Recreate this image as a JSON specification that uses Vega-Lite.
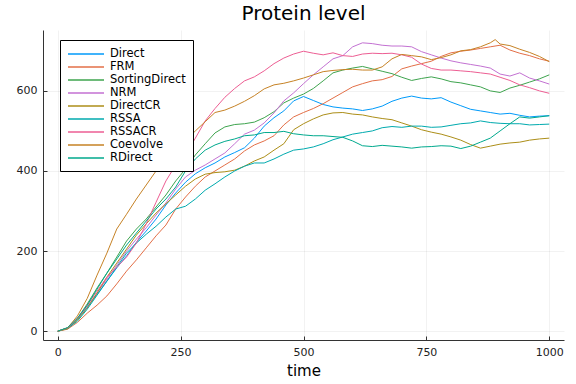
{
"$schema":"https://vega.github.io/schema/vega-lite/v6.json",
"width":521,"height":310,
"autosize":{"type":"none"},
"padding":{"left":43,"top":30,"right":12,"bottom":44},
"background":"white",
"config":{"font":"DejaVu Sans","view":{"stroke":null}},
"title":{"text":"Protein level","fontSize":20,"fontWeight":"normal","color":"#000","offset":6,"anchor":"middle"},
"data":{"values":[
{"s":"Direct","t":0,"v":0},{"s":"Direct","t":20,"v":8},{"s":"Direct","t":40,"v":30},{"s":"Direct","t":60,"v":60},{"s":"Direct","t":80,"v":92},{"s":"Direct","t":100,"v":125},{"s":"Direct","t":120,"v":158},{"s":"Direct","t":140,"v":188},{"s":"Direct","t":160,"v":222},{"s":"Direct","t":180,"v":250},{"s":"Direct","t":200,"v":280},{"s":"Direct","t":220,"v":315},{"s":"Direct","t":240,"v":345},{"s":"Direct","t":260,"v":372},{"s":"Direct","t":280,"v":393},{"s":"Direct","t":300,"v":408},{"s":"Direct","t":320,"v":420},{"s":"Direct","t":340,"v":435},{"s":"Direct","t":360,"v":446},{"s":"Direct","t":380,"v":458},{"s":"Direct","t":400,"v":482},{"s":"Direct","t":420,"v":512},{"s":"Direct","t":440,"v":533},{"s":"Direct","t":460,"v":550},{"s":"Direct","t":480,"v":575},{"s":"Direct","t":500,"v":586},{"s":"Direct","t":520,"v":576},{"s":"Direct","t":540,"v":566},{"s":"Direct","t":560,"v":560},{"s":"Direct","t":580,"v":557},{"s":"Direct","t":600,"v":555},{"s":"Direct","t":620,"v":551},{"s":"Direct","t":640,"v":555},{"s":"Direct","t":660,"v":562},{"s":"Direct","t":680,"v":574},{"s":"Direct","t":700,"v":582},{"s":"Direct","t":720,"v":587},{"s":"Direct","t":740,"v":582},{"s":"Direct","t":760,"v":580},{"s":"Direct","t":780,"v":583},{"s":"Direct","t":800,"v":572},{"s":"Direct","t":820,"v":563},{"s":"Direct","t":840,"v":554},{"s":"Direct","t":860,"v":550},{"s":"Direct","t":880,"v":546},{"s":"Direct","t":900,"v":542},{"s":"Direct","t":920,"v":544},{"s":"Direct","t":940,"v":539},{"s":"Direct","t":960,"v":535},{"s":"Direct","t":980,"v":537},{"s":"Direct","t":1000,"v":538},
{"s":"FRM","t":0,"v":0},{"s":"FRM","t":20,"v":5},{"s":"FRM","t":40,"v":22},{"s":"FRM","t":60,"v":45},{"s":"FRM","t":80,"v":65},{"s":"FRM","t":100,"v":88},{"s":"FRM","t":120,"v":118},{"s":"FRM","t":140,"v":150},{"s":"FRM","t":160,"v":178},{"s":"FRM","t":180,"v":208},{"s":"FRM","t":200,"v":238},{"s":"FRM","t":220,"v":265},{"s":"FRM","t":240,"v":305},{"s":"FRM","t":260,"v":335},{"s":"FRM","t":280,"v":362},{"s":"FRM","t":300,"v":385},{"s":"FRM","t":320,"v":400},{"s":"FRM","t":340,"v":415},{"s":"FRM","t":360,"v":430},{"s":"FRM","t":380,"v":450},{"s":"FRM","t":400,"v":465},{"s":"FRM","t":420,"v":475},{"s":"FRM","t":440,"v":488},{"s":"FRM","t":460,"v":515},{"s":"FRM","t":480,"v":535},{"s":"FRM","t":500,"v":546},{"s":"FRM","t":520,"v":556},{"s":"FRM","t":540,"v":568},{"s":"FRM","t":560,"v":582},{"s":"FRM","t":580,"v":596},{"s":"FRM","t":600,"v":610},{"s":"FRM","t":620,"v":618},{"s":"FRM","t":640,"v":625},{"s":"FRM","t":660,"v":628},{"s":"FRM","t":680,"v":636},{"s":"FRM","t":700,"v":655},{"s":"FRM","t":720,"v":662},{"s":"FRM","t":740,"v":668},{"s":"FRM","t":760,"v":674},{"s":"FRM","t":780,"v":686},{"s":"FRM","t":800,"v":695},{"s":"FRM","t":820,"v":699},{"s":"FRM","t":840,"v":702},{"s":"FRM","t":860,"v":706},{"s":"FRM","t":880,"v":710},{"s":"FRM","t":900,"v":714},{"s":"FRM","t":920,"v":702},{"s":"FRM","t":940,"v":694},{"s":"FRM","t":960,"v":688},{"s":"FRM","t":980,"v":680},{"s":"FRM","t":1000,"v":674},
{"s":"SortingDirect","t":0,"v":0},{"s":"SortingDirect","t":20,"v":8},{"s":"SortingDirect","t":40,"v":32},{"s":"SortingDirect","t":60,"v":68},{"s":"SortingDirect","t":80,"v":108},{"s":"SortingDirect","t":100,"v":145},{"s":"SortingDirect","t":120,"v":185},{"s":"SortingDirect","t":140,"v":225},{"s":"SortingDirect","t":160,"v":255},{"s":"SortingDirect","t":180,"v":280},{"s":"SortingDirect","t":200,"v":310},{"s":"SortingDirect","t":220,"v":340},{"s":"SortingDirect","t":240,"v":375},{"s":"SortingDirect","t":260,"v":405},{"s":"SortingDirect","t":280,"v":440},{"s":"SortingDirect","t":300,"v":468},{"s":"SortingDirect","t":320,"v":495},{"s":"SortingDirect","t":340,"v":510},{"s":"SortingDirect","t":360,"v":516},{"s":"SortingDirect","t":380,"v":518},{"s":"SortingDirect","t":400,"v":522},{"s":"SortingDirect","t":420,"v":533},{"s":"SortingDirect","t":440,"v":548},{"s":"SortingDirect","t":460,"v":570},{"s":"SortingDirect","t":480,"v":582},{"s":"SortingDirect","t":500,"v":592},{"s":"SortingDirect","t":520,"v":606},{"s":"SortingDirect","t":540,"v":625},{"s":"SortingDirect","t":560,"v":645},{"s":"SortingDirect","t":580,"v":652},{"s":"SortingDirect","t":600,"v":657},{"s":"SortingDirect","t":620,"v":661},{"s":"SortingDirect","t":640,"v":655},{"s":"SortingDirect","t":660,"v":649},{"s":"SortingDirect","t":680,"v":643},{"s":"SortingDirect","t":700,"v":634},{"s":"SortingDirect","t":720,"v":626},{"s":"SortingDirect","t":740,"v":631},{"s":"SortingDirect","t":760,"v":635},{"s":"SortingDirect","t":780,"v":630},{"s":"SortingDirect","t":800,"v":623},{"s":"SortingDirect","t":820,"v":620},{"s":"SortingDirect","t":840,"v":615},{"s":"SortingDirect","t":860,"v":610},{"s":"SortingDirect","t":880,"v":600},{"s":"SortingDirect","t":900,"v":596},{"s":"SortingDirect","t":920,"v":607},{"s":"SortingDirect","t":940,"v":614},{"s":"SortingDirect","t":960,"v":622},{"s":"SortingDirect","t":980,"v":630},{"s":"SortingDirect","t":1000,"v":640},
{"s":"NRM","t":0,"v":0},{"s":"NRM","t":20,"v":8},{"s":"NRM","t":40,"v":30},{"s":"NRM","t":60,"v":62},{"s":"NRM","t":80,"v":95},{"s":"NRM","t":100,"v":130},{"s":"NRM","t":120,"v":165},{"s":"NRM","t":140,"v":200},{"s":"NRM","t":160,"v":230},{"s":"NRM","t":180,"v":258},{"s":"NRM","t":200,"v":290},{"s":"NRM","t":220,"v":320},{"s":"NRM","t":240,"v":355},{"s":"NRM","t":260,"v":385},{"s":"NRM","t":280,"v":402},{"s":"NRM","t":300,"v":415},{"s":"NRM","t":320,"v":430},{"s":"NRM","t":340,"v":445},{"s":"NRM","t":360,"v":468},{"s":"NRM","t":380,"v":492},{"s":"NRM","t":400,"v":502},{"s":"NRM","t":420,"v":520},{"s":"NRM","t":440,"v":545},{"s":"NRM","t":460,"v":575},{"s":"NRM","t":480,"v":595},{"s":"NRM","t":500,"v":618},{"s":"NRM","t":520,"v":640},{"s":"NRM","t":540,"v":660},{"s":"NRM","t":560,"v":680},{"s":"NRM","t":580,"v":688},{"s":"NRM","t":600,"v":710},{"s":"NRM","t":620,"v":720},{"s":"NRM","t":640,"v":718},{"s":"NRM","t":660,"v":714},{"s":"NRM","t":680,"v":712},{"s":"NRM","t":700,"v":712},{"s":"NRM","t":720,"v":710},{"s":"NRM","t":740,"v":698},{"s":"NRM","t":760,"v":690},{"s":"NRM","t":780,"v":682},{"s":"NRM","t":800,"v":675},{"s":"NRM","t":820,"v":670},{"s":"NRM","t":840,"v":666},{"s":"NRM","t":860,"v":662},{"s":"NRM","t":880,"v":657},{"s":"NRM","t":900,"v":642},{"s":"NRM","t":920,"v":637},{"s":"NRM","t":940,"v":645},{"s":"NRM","t":960,"v":632},{"s":"NRM","t":980,"v":625},{"s":"NRM","t":1000,"v":617},
{"s":"DirectCR","t":0,"v":0},{"s":"DirectCR","t":20,"v":6},{"s":"DirectCR","t":40,"v":28},{"s":"DirectCR","t":60,"v":58},{"s":"DirectCR","t":80,"v":95},{"s":"DirectCR","t":100,"v":135},{"s":"DirectCR","t":120,"v":170},{"s":"DirectCR","t":140,"v":205},{"s":"DirectCR","t":160,"v":240},{"s":"DirectCR","t":180,"v":268},{"s":"DirectCR","t":200,"v":295},{"s":"DirectCR","t":220,"v":318},{"s":"DirectCR","t":240,"v":340},{"s":"DirectCR","t":260,"v":362},{"s":"DirectCR","t":280,"v":380},{"s":"DirectCR","t":300,"v":392},{"s":"DirectCR","t":320,"v":396},{"s":"DirectCR","t":340,"v":398},{"s":"DirectCR","t":360,"v":402},{"s":"DirectCR","t":380,"v":412},{"s":"DirectCR","t":400,"v":425},{"s":"DirectCR","t":420,"v":435},{"s":"DirectCR","t":440,"v":452},{"s":"DirectCR","t":460,"v":468},{"s":"DirectCR","t":480,"v":503},{"s":"DirectCR","t":500,"v":518},{"s":"DirectCR","t":520,"v":530},{"s":"DirectCR","t":540,"v":540},{"s":"DirectCR","t":560,"v":545},{"s":"DirectCR","t":580,"v":546},{"s":"DirectCR","t":600,"v":542},{"s":"DirectCR","t":620,"v":540},{"s":"DirectCR","t":640,"v":535},{"s":"DirectCR","t":660,"v":531},{"s":"DirectCR","t":680,"v":528},{"s":"DirectCR","t":700,"v":520},{"s":"DirectCR","t":720,"v":512},{"s":"DirectCR","t":740,"v":503},{"s":"DirectCR","t":760,"v":497},{"s":"DirectCR","t":780,"v":492},{"s":"DirectCR","t":800,"v":485},{"s":"DirectCR","t":820,"v":477},{"s":"DirectCR","t":840,"v":466},{"s":"DirectCR","t":860,"v":457},{"s":"DirectCR","t":880,"v":462},{"s":"DirectCR","t":900,"v":467},{"s":"DirectCR","t":920,"v":470},{"s":"DirectCR","t":940,"v":472},{"s":"DirectCR","t":960,"v":477},{"s":"DirectCR","t":980,"v":480},{"s":"DirectCR","t":1000,"v":482},
{"s":"RSSA","t":0,"v":0},{"s":"RSSA","t":20,"v":7},{"s":"RSSA","t":40,"v":25},{"s":"RSSA","t":60,"v":55},{"s":"RSSA","t":80,"v":90},{"s":"RSSA","t":100,"v":125},{"s":"RSSA","t":120,"v":160},{"s":"RSSA","t":140,"v":195},{"s":"RSSA","t":160,"v":220},{"s":"RSSA","t":180,"v":242},{"s":"RSSA","t":200,"v":262},{"s":"RSSA","t":220,"v":285},{"s":"RSSA","t":240,"v":305},{"s":"RSSA","t":260,"v":312},{"s":"RSSA","t":280,"v":330},{"s":"RSSA","t":300,"v":352},{"s":"RSSA","t":320,"v":368},{"s":"RSSA","t":340,"v":385},{"s":"RSSA","t":360,"v":400},{"s":"RSSA","t":380,"v":412},{"s":"RSSA","t":400,"v":420},{"s":"RSSA","t":420,"v":420},{"s":"RSSA","t":440,"v":430},{"s":"RSSA","t":460,"v":442},{"s":"RSSA","t":480,"v":452},{"s":"RSSA","t":500,"v":455},{"s":"RSSA","t":520,"v":460},{"s":"RSSA","t":540,"v":468},{"s":"RSSA","t":560,"v":478},{"s":"RSSA","t":580,"v":485},{"s":"RSSA","t":600,"v":492},{"s":"RSSA","t":620,"v":496},{"s":"RSSA","t":640,"v":500},{"s":"RSSA","t":660,"v":508},{"s":"RSSA","t":680,"v":511},{"s":"RSSA","t":700,"v":509},{"s":"RSSA","t":720,"v":512},{"s":"RSSA","t":740,"v":512},{"s":"RSSA","t":760,"v":509},{"s":"RSSA","t":780,"v":510},{"s":"RSSA","t":800,"v":514},{"s":"RSSA","t":820,"v":518},{"s":"RSSA","t":840,"v":520},{"s":"RSSA","t":860,"v":525},{"s":"RSSA","t":880,"v":521},{"s":"RSSA","t":900,"v":519},{"s":"RSSA","t":920,"v":518},{"s":"RSSA","t":940,"v":518},{"s":"RSSA","t":960,"v":515},{"s":"RSSA","t":980,"v":516},{"s":"RSSA","t":1000,"v":517},
{"s":"RSSACR","t":0,"v":0},{"s":"RSSACR","t":20,"v":8},{"s":"RSSACR","t":40,"v":32},{"s":"RSSACR","t":60,"v":65},{"s":"RSSACR","t":80,"v":100},{"s":"RSSACR","t":100,"v":135},{"s":"RSSACR","t":120,"v":160},{"s":"RSSACR","t":140,"v":185},{"s":"RSSACR","t":160,"v":220},{"s":"RSSACR","t":180,"v":268},{"s":"RSSACR","t":200,"v":322},{"s":"RSSACR","t":220,"v":375},{"s":"RSSACR","t":240,"v":415},{"s":"RSSACR","t":260,"v":440},{"s":"RSSACR","t":280,"v":482},{"s":"RSSACR","t":300,"v":525},{"s":"RSSACR","t":320,"v":556},{"s":"RSSACR","t":340,"v":584},{"s":"RSSACR","t":360,"v":606},{"s":"RSSACR","t":380,"v":625},{"s":"RSSACR","t":400,"v":635},{"s":"RSSACR","t":420,"v":650},{"s":"RSSACR","t":440,"v":668},{"s":"RSSACR","t":460,"v":682},{"s":"RSSACR","t":480,"v":692},{"s":"RSSACR","t":500,"v":699},{"s":"RSSACR","t":520,"v":694},{"s":"RSSACR","t":540,"v":690},{"s":"RSSACR","t":560,"v":695},{"s":"RSSACR","t":580,"v":688},{"s":"RSSACR","t":600,"v":686},{"s":"RSSACR","t":620,"v":692},{"s":"RSSACR","t":640,"v":694},{"s":"RSSACR","t":660,"v":693},{"s":"RSSACR","t":680,"v":694},{"s":"RSSACR","t":700,"v":690},{"s":"RSSACR","t":720,"v":684},{"s":"RSSACR","t":740,"v":667},{"s":"RSSACR","t":760,"v":656},{"s":"RSSACR","t":780,"v":652},{"s":"RSSACR","t":800,"v":652},{"s":"RSSACR","t":820,"v":650},{"s":"RSSACR","t":840,"v":648},{"s":"RSSACR","t":860,"v":645},{"s":"RSSACR","t":880,"v":642},{"s":"RSSACR","t":900,"v":634},{"s":"RSSACR","t":920,"v":626},{"s":"RSSACR","t":940,"v":615},{"s":"RSSACR","t":960,"v":608},{"s":"RSSACR","t":980,"v":600},{"s":"RSSACR","t":1000,"v":594},
{"s":"Coevolve","t":0,"v":0},{"s":"Coevolve","t":20,"v":8},{"s":"Coevolve","t":40,"v":38},{"s":"Coevolve","t":60,"v":82},{"s":"Coevolve","t":80,"v":140},{"s":"Coevolve","t":100,"v":195},{"s":"Coevolve","t":120,"v":255},{"s":"Coevolve","t":140,"v":292},{"s":"Coevolve","t":160,"v":330},{"s":"Coevolve","t":180,"v":365},{"s":"Coevolve","t":200,"v":400},{"s":"Coevolve","t":220,"v":435},{"s":"Coevolve","t":240,"v":458},{"s":"Coevolve","t":260,"v":476},{"s":"Coevolve","t":280,"v":500},{"s":"Coevolve","t":300,"v":523},{"s":"Coevolve","t":320,"v":546},{"s":"Coevolve","t":340,"v":552},{"s":"Coevolve","t":360,"v":562},{"s":"Coevolve","t":380,"v":574},{"s":"Coevolve","t":400,"v":588},{"s":"Coevolve","t":420,"v":605},{"s":"Coevolve","t":440,"v":615},{"s":"Coevolve","t":460,"v":619},{"s":"Coevolve","t":480,"v":625},{"s":"Coevolve","t":500,"v":632},{"s":"Coevolve","t":520,"v":640},{"s":"Coevolve","t":540,"v":648},{"s":"Coevolve","t":560,"v":651},{"s":"Coevolve","t":580,"v":653},{"s":"Coevolve","t":600,"v":654},{"s":"Coevolve","t":620,"v":652},{"s":"Coevolve","t":640,"v":652},{"s":"Coevolve","t":660,"v":660},{"s":"Coevolve","t":680,"v":680},{"s":"Coevolve","t":700,"v":691},{"s":"Coevolve","t":720,"v":688},{"s":"Coevolve","t":740,"v":685},{"s":"Coevolve","t":760,"v":678},{"s":"Coevolve","t":780,"v":683},{"s":"Coevolve","t":800,"v":690},{"s":"Coevolve","t":820,"v":700},{"s":"Coevolve","t":840,"v":703},{"s":"Coevolve","t":860,"v":710},{"s":"Coevolve","t":880,"v":720},{"s":"Coevolve","t":890,"v":728},{"s":"Coevolve","t":900,"v":717},{"s":"Coevolve","t":920,"v":713},{"s":"Coevolve","t":940,"v":704},{"s":"Coevolve","t":960,"v":696},{"s":"Coevolve","t":980,"v":686},{"s":"Coevolve","t":1000,"v":673},
{"s":"RDirect","t":0,"v":0},{"s":"RDirect","t":20,"v":9},{"s":"RDirect","t":40,"v":32},{"s":"RDirect","t":60,"v":65},{"s":"RDirect","t":80,"v":105},{"s":"RDirect","t":100,"v":145},{"s":"RDirect","t":120,"v":180},{"s":"RDirect","t":140,"v":215},{"s":"RDirect","t":160,"v":245},{"s":"RDirect","t":180,"v":275},{"s":"RDirect","t":200,"v":305},{"s":"RDirect","t":220,"v":330},{"s":"RDirect","t":240,"v":360},{"s":"RDirect","t":260,"v":400},{"s":"RDirect","t":280,"v":430},{"s":"RDirect","t":300,"v":452},{"s":"RDirect","t":320,"v":465},{"s":"RDirect","t":340,"v":474},{"s":"RDirect","t":360,"v":480},{"s":"RDirect","t":380,"v":488},{"s":"RDirect","t":400,"v":490},{"s":"RDirect","t":420,"v":496},{"s":"RDirect","t":440,"v":496},{"s":"RDirect","t":460,"v":499},{"s":"RDirect","t":480,"v":493},{"s":"RDirect","t":500,"v":490},{"s":"RDirect","t":520,"v":488},{"s":"RDirect","t":540,"v":488},{"s":"RDirect","t":560,"v":486},{"s":"RDirect","t":580,"v":484},{"s":"RDirect","t":600,"v":475},{"s":"RDirect","t":620,"v":463},{"s":"RDirect","t":640,"v":461},{"s":"RDirect","t":660,"v":464},{"s":"RDirect","t":680,"v":462},{"s":"RDirect","t":700,"v":460},{"s":"RDirect","t":720,"v":457},{"s":"RDirect","t":740,"v":460},{"s":"RDirect","t":760,"v":461},{"s":"RDirect","t":780,"v":463},{"s":"RDirect","t":800,"v":462},{"s":"RDirect","t":820,"v":456},{"s":"RDirect","t":840,"v":462},{"s":"RDirect","t":860,"v":472},{"s":"RDirect","t":880,"v":482},{"s":"RDirect","t":900,"v":500},{"s":"RDirect","t":920,"v":518},{"s":"RDirect","t":940,"v":535},{"s":"RDirect","t":960,"v":532},{"s":"RDirect","t":980,"v":535},{"s":"RDirect","t":1000,"v":538}
]},
"mark":{"type":"line","strokeWidth":1,"clip":true},
"encoding":{
"x":{"field":"t","type":"quantitative","scale":{"domain":[-30,1030],"nice":false,"zero":false},
"axis":{"title":"time","values":[0,250,500,750,1000],"format":"d","grid":true,"gridColor":"#000","gridOpacity":0.1,"gridWidth":0.5,"domainColor":"#333","domainWidth":1,"tickColor":"#333","tickSize":-4,"labelPadding":10,"labelFontSize":11,"labelColor":"#222","titleFontSize":15,"titleFontWeight":"normal","titleColor":"#000","titlePadding":6,"labelFlush":false}},
"y":{"field":"v","type":"quantitative","scale":{"domain":[-22,752],"nice":false,"zero":false},
"axis":{"title":null,"values":[0,200,400,600],"format":"d","grid":true,"gridColor":"#000","gridOpacity":0.1,"gridWidth":0.5,"domainColor":"#333","domainWidth":1,"tickColor":"#333","tickSize":-4,"labelPadding":10,"labelFontSize":11,"labelColor":"#222"}},
"color":{"field":"s","type":"nominal","sort":null,
"scale":{"domain":["Direct","FRM","SortingDirect","NRM","DirectCR","RSSA","RSSACR","Coevolve","RDirect"],"range":["#009AFA","#E36F47","#3EA44E","#C371D2","#AC8E18","#00AAAE","#ED5E93","#C68225","#00A98D"]},
"legend":{"title":null,"orient":"none","legendX":17,"legendY":10,"strokeColor":"#000","fillColor":"#fff","padding":7,"symbolType":"M-1,0H5","symbolSize":144,"symbolStrokeWidth":1.5,"symbolFillColor":"transparent","labelFontSize":11.5,"labelColor":"#000","rowPadding":0,"labelOffset":29}}
}
}
